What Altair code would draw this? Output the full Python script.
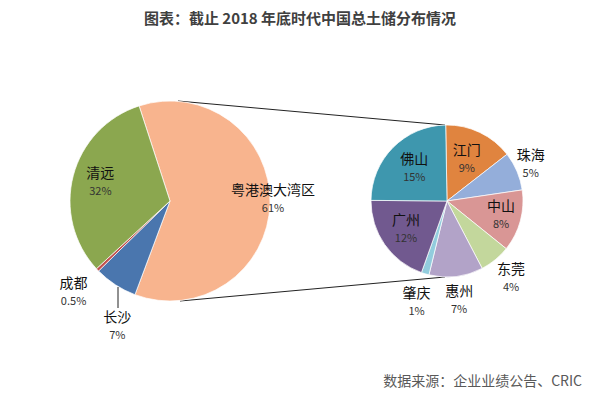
import math
import json
import altair as alt
import pandas as pd

# ---------------- data ----------------
title_text = "图表：截止 2018 年底时代中国总土储分布情况"
source_text = "数据来源：企业业绩公告、CRIC"

left_names = ["粤港澳大湾区", "长沙", "成都", "清远"]
left_values = [61, 7, 0.5, 32]
left_labels = ["61%", "7%", "0.5%", "32%"]
left_colors = ["#F8B48E", "#4A76AE", "#C0504D", "#8BA74F"]

right_names = ["江门", "珠海", "中山", "东莞", "惠州", "肇庆", "广州", "佛山"]
right_values = [9, 5, 8, 4, 7, 1, 12, 15]
right_labels = ["9%", "5%", "8%", "4%", "7%", "1%", "12%", "15%"]
right_colors = ["#E0843F", "#94AEDA", "#D99695", "#C3D79C",
                "#B2A3C8", "#92CCDD", "#71598F", "#3E97AE"]

FONT = "Noto Sans CJK SC"


def make_df(names, values, labels):
    return pd.DataFrame({"idx": list(range(len(names))), "name": names,
                         "value": values, "pct": labels})


def pie(df, names, colors, cx, cy, r, start_deg, groups):
    start = math.radians(start_deg)
    theta = alt.Theta("value:Q", stack=True,
                      scale=alt.Scale(range=[start, start + 2 * math.pi]))
    base = alt.Chart(df).encode(theta=theta, order=alt.Order("idx:Q"),
                                x=alt.value(cx), y=alt.value(cy))
    arc = base.mark_arc(outerRadius=r, stroke="white", strokeWidth=0.7).encode(
        color=alt.Color("name:N", scale=alt.Scale(domain=names, range=colors),
                        legend=None))
    layers = [arc]
    for group, radius, dx, dy in groups:
        test = "indexof(" + json.dumps(group, ensure_ascii=False) + ", datum.name) >= 0"
        layers.append(base.mark_text(radius=radius, dx=dx, dy=dy - 9, fontSize=14,
                                     font=FONT, color="#111111").encode(
            text=alt.condition(test, alt.Text("name:N"), alt.value("")),
            detail="name:N"))
        layers.append(base.mark_text(radius=radius, dx=dx, dy=dy + 9, fontSize=11,
                                     font=FONT, color="#333333").encode(
            text=alt.condition(test, alt.Text("pct:N"), alt.value("")),
            detail="name:N"))
    return alt.layer(*layers)


left_df = make_df(left_names, left_values, left_labels)
right_df = make_df(right_names, right_values, right_labels)

left = pie(left_df, left_names, left_colors, 162, 193, 100, 342,
           [(["粤港澳大湾区"], 103, 0, -3),
            (["清远"], 72, 0, 0),
            (["成都"], 133, 0, 0),
            (["长沙"], 137, 22, 11)])

right = pie(right_df, right_names, right_colors, 439, 193, 76, -1,
            [(["佛山", "江门"], 46, 0, 0),
             (["广州"], 50, 0, 0),
             (["中山"], 56, 0, 0),
             (["东莞", "惠州"], 101, 0, 0),
             (["肇庆"], 106, 0, 0),
             (["珠海"], 91, 0, 0)])

one = alt.Data(values=[{"k": 1}])

top_line = alt.Chart(one).mark_rule(color="#222222", strokeWidth=1).encode(
    x=alt.value(170), y=alt.value(93), x2=alt.value(437), y2=alt.value(117))
bottom_line = alt.Chart(one).mark_rule(color="#222222", strokeWidth=1).encode(
    x=alt.value(172), y=alt.value(293), x2=alt.value(437), y2=alt.value(269))
leader = alt.Chart(one).mark_rule(color="#222222", strokeWidth=1).encode(
    x=alt.value(110), y=alt.value(279), x2=alt.value(110), y2=alt.value(300))

title = alt.Chart(one).mark_text(font=FONT, fontSize=15, fontWeight="bold",
                                 color="#404040", align="center",
                                 baseline="middle").encode(
    x=alt.value(292), y=alt.value(11), text=alt.value(title_text))
source = alt.Chart(one).mark_text(font=FONT, fontSize=14, color="#595959",
                                  align="right", baseline="middle").encode(
    x=alt.value(574), y=alt.value(374), text=alt.value(source_text))

chart = alt.layer(top_line, bottom_line, left, right, leader, title, source).resolve_scale(
    theta="independent", color="independent"
).properties(
    width=587, height=383, autosize=alt.AutoSizeParams(type="none"), padding=0,
    background="white"
).configure_view(stroke=None)

chart.save("out.html", embed_options={"renderer": "svg", "actions": False})
